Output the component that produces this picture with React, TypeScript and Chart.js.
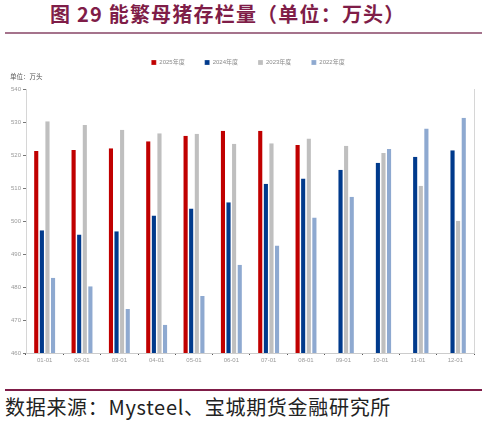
import React, { useEffect, useRef } from "react";
import { Chart, registerables } from "chart.js";

Chart.register(...registerables);

// ── Data ──────────────────────────────────────────────────────
const months = ["01-01", "02-01", "03-01", "04-01", "05-01", "06-01", "07-01", "08-01", "09-01", "10-01", "11-01", "12-01"];
const sows2025 = [521.4, 521.7, 522.2, 524.3, 526.0, 527.5, 527.5, 523.2, null, null, null, null];
const sows2024 = [497.3, 496.0, 497.0, 501.8, 503.9, 505.8, 511.4, 513.0, 515.7, 517.8, 519.6, 521.6];
const sows2023 = [530.4, 529.3, 527.8, 526.8, 526.6, 523.6, 523.7, 525.2, 523.0, 520.8, 510.8, 500.2];
const sows2022 = [482.9, 480.3, 473.4, 468.6, 477.3, 486.8, 492.7, 501.2, 507.5, 522.0, 528.2, 531.5];
const seriesNames = ["2025年度", "2024年度", "2023年度", "2022年度"];
const seriesColors = ["#C00000", "#003A8C", "#BFBFBF", "#8EA9D0"];

const tickFont = { size: 6, family: "'Liberation Sans', 'Noto Sans CJK SC', sans-serif" };

// legend needs a fixed height so the plot starts where the reference does
const legendHeight = {
  id: "legendHeight",
  beforeInit(chart: any) {
    const fit = chart.legend.fit;
    chart.legend.fit = function () {
      fit.bind(chart.legend)();
      this.height = 50.2;
    };
  },
};

const SowChart: React.FC = () => {
  const canvasRef = useRef<HTMLCanvasElement>(null);

  useEffect(() => {
    if (!canvasRef.current) return;
    const data = [sows2025, sows2024, sows2023, sows2022];
    const chart = new Chart(canvasRef.current, {
      type: "bar",
      data: {
        labels: months,
        datasets: data.map((d, i) => ({
          label: seriesNames[i],
          data: d as any,
          backgroundColor: seriesColors[i],
          borderColor: "#ffffff",
          borderWidth: { left: 0.5, right: 0.5, top: 0, bottom: 0 },
          barPercentage: 0.92,
          categoryPercentage: 0.6,
        })),
      },
      options: {
        responsive: false,
        animation: false,
        layout: { padding: { left: 9, right: 0, top: 1.5, bottom: 0 } },
        plugins: {
          legend: {
            position: "top",
            labels: {
              boxWidth: 5,
              boxHeight: 5,
              padding: 20,
              color: "#8a8a8a",
              font: tickFont,
            },
          },
          tooltip: { enabled: false },
        },
        scales: {
          x: {
            grid: {
              drawOnChartArea: false,
              drawTicks: true,
              tickLength: 2,
              color: "#555555",
              offset: true,
            },
            border: { display: true, color: "#cccccc", width: 1 },
            ticks: { color: "#999999", font: tickFont, padding: 2, maxRotation: 0 },
            afterFit: (s: any) => { s.height = 17; },
          },
          y: {
            min: 460,
            max: 540,
            grid: {
              drawOnChartArea: false,
              drawTicks: true,
              tickLength: 3,
              color: "#777777",
            },
            border: { display: true, color: "#d6d6d6", width: 1 },
            ticks: { stepSize: 10, color: "#999999", font: tickFont, padding: 2 },
            afterFit: (s: any) => { s.width = 17; },
          },
          y1: {
            position: "right",
            min: 460,
            max: 540,
            grid: { display: false },
            border: { display: true, color: "#d6d6d6", width: 1 },
            ticks: { display: false },
            afterFit: (s: any) => { s.width = 13; },
          },
        },
      },
      plugins: [legendHeight],
    });
    return () => chart.destroy();
  }, []);

  return <canvas ref={canvasRef} width={487} height={332} />;
};

export default function App() {
  return (
    <div
      style={{
        position: "absolute",
        left: 0,
        top: 0,
        width: 487,
        height: 422,
        background: "#ffffff",
        fontFamily: "'Noto Sans CJK SC', sans-serif",
        overflow: "hidden",
      }}
    >
      <div
        style={{
          position: "absolute",
          left: 50,
          top: 2,
          fontSize: 20,
          fontWeight: 700,
          color: "#7F1D48",
          whiteSpace: "nowrap",
          letterSpacing: 1.2,
          lineHeight: "24px",
        }}
      >
        图 29 能繁母猪存栏量（单位：万头）
      </div>
      <div style={{ position: "absolute", left: 5, top: 32, width: 477, height: 2, background: "#A5738C" }} />
      <div style={{ position: "absolute", left: 0, top: 38 }}>
        <SowChart />
      </div>
      <div
        style={{
          position: "absolute",
          left: 10,
          top: 71,
          fontSize: 6.5,
          color: "#555555",
          whiteSpace: "nowrap",
          lineHeight: "10px",
        }}
      >
        单位：万头
      </div>
      <div style={{ position: "absolute", left: 5, top: 389, width: 477, height: 1.5, background: "#7F1D48" }} />
      <div
        style={{
          position: "absolute",
          left: 5,
          top: 394,
          fontSize: 20,
          color: "#222222",
          whiteSpace: "nowrap",
          letterSpacing: 0.7,
          lineHeight: "26px",
        }}
      >
        数据来源：Mysteel、宝城期货金融研究所
      </div>
    </div>
  );
}
